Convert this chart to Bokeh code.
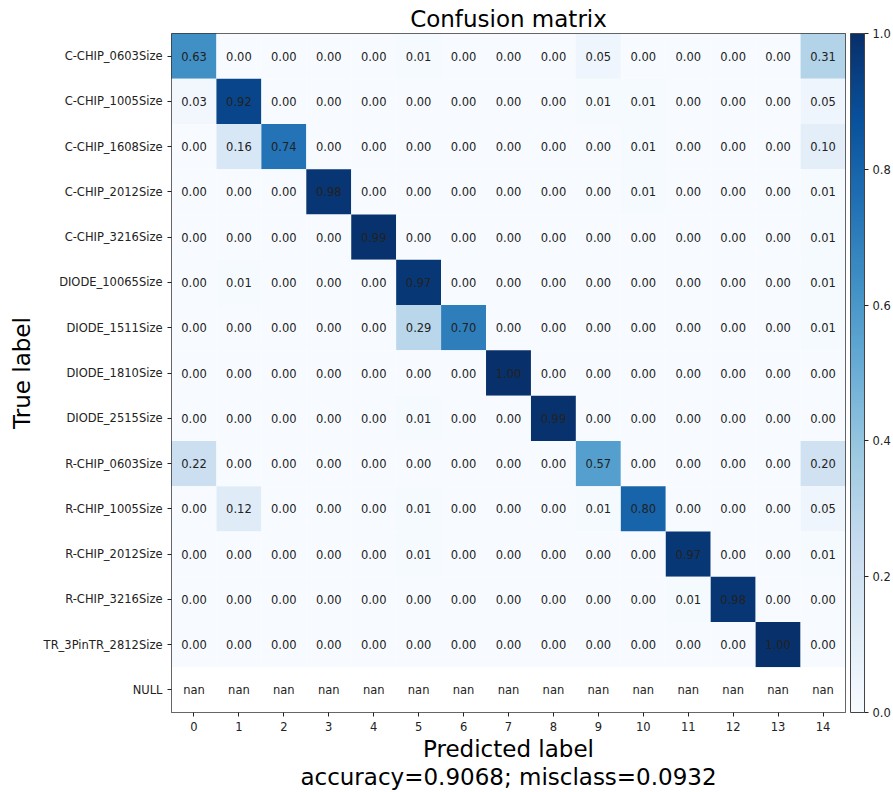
import numpy as np
from bokeh.plotting import figure
from bokeh.models import (ColumnDataSource, LinearColorMapper, ColorBar, FixedTicker,
                          Title, PrintfTickFormatter, Range1d)
from bokeh.transform import transform
from bokeh.core.properties import value
from bokeh.embed import file_html
from bokeh.resources import INLINE

true_labels = ["C-CHIP_0603Size", "C-CHIP_1005Size", "C-CHIP_1608Size", "C-CHIP_2012Size",
               "C-CHIP_3216Size", "DIODE_10065Size", "DIODE_1511Size", "DIODE_1810Size",
               "DIODE_2515Size", "R-CHIP_0603Size", "R-CHIP_1005Size", "R-CHIP_2012Size",
               "R-CHIP_3216Size", "TR_3PinTR_2812Size", "NULL"]
pred_labels = [str(i) for i in range(15)]

nan = float("nan")
row_c0603 = [0.63, 0.00, 0.00, 0.00, 0.00, 0.01, 0.00, 0.00, 0.00, 0.05, 0.00, 0.00, 0.00, 0.00, 0.31]
row_c1005 = [0.03, 0.92, 0.00, 0.00, 0.00, 0.00, 0.00, 0.00, 0.00, 0.01, 0.01, 0.00, 0.00, 0.00, 0.05]
row_c1608 = [0.00, 0.16, 0.74, 0.00, 0.00, 0.00, 0.00, 0.00, 0.00, 0.00, 0.01, 0.00, 0.00, 0.00, 0.10]
row_c2012 = [0.00, 0.00, 0.00, 0.98, 0.00, 0.00, 0.00, 0.00, 0.00, 0.00, 0.01, 0.00, 0.00, 0.00, 0.01]
row_c3216 = [0.00, 0.00, 0.00, 0.00, 0.99, 0.00, 0.00, 0.00, 0.00, 0.00, 0.00, 0.00, 0.00, 0.00, 0.01]
row_d10065 = [0.00, 0.01, 0.00, 0.00, 0.00, 0.97, 0.00, 0.00, 0.00, 0.00, 0.00, 0.00, 0.00, 0.00, 0.01]
row_d1511 = [0.00, 0.00, 0.00, 0.00, 0.00, 0.29, 0.70, 0.00, 0.00, 0.00, 0.00, 0.00, 0.00, 0.00, 0.01]
row_d1810 = [0.00, 0.00, 0.00, 0.00, 0.00, 0.00, 0.00, 1.00, 0.00, 0.00, 0.00, 0.00, 0.00, 0.00, 0.00]
row_d2515 = [0.00, 0.00, 0.00, 0.00, 0.00, 0.01, 0.00, 0.00, 0.99, 0.00, 0.00, 0.00, 0.00, 0.00, 0.00]
row_r0603 = [0.22, 0.00, 0.00, 0.00, 0.00, 0.00, 0.00, 0.00, 0.00, 0.57, 0.00, 0.00, 0.00, 0.00, 0.20]
row_r1005 = [0.00, 0.12, 0.00, 0.00, 0.00, 0.01, 0.00, 0.00, 0.00, 0.01, 0.80, 0.00, 0.00, 0.00, 0.05]
row_r2012 = [0.00, 0.00, 0.00, 0.00, 0.00, 0.01, 0.00, 0.00, 0.00, 0.00, 0.00, 0.97, 0.00, 0.00, 0.01]
row_r3216 = [0.00, 0.00, 0.00, 0.00, 0.00, 0.00, 0.00, 0.00, 0.00, 0.00, 0.00, 0.01, 0.98, 0.00, 0.00]
row_tr2812 = [0.00, 0.00, 0.00, 0.00, 0.00, 0.00, 0.00, 0.00, 0.00, 0.00, 0.00, 0.00, 0.00, 1.00, 0.00]
row_null = [nan] * 15

matrix = [row_c0603, row_c1005, row_c1608, row_c2012, row_c3216, row_d10065, row_d1511,
          row_d1810, row_d2515, row_r0603, row_r1005, row_r2012, row_r3216, row_tr2812, row_null]

accuracy = 0.9068
misclass = 0.0932
colorbar_ticks = [0.0, 0.2, 0.4, 0.6, 0.8, 1.0]

# matplotlib "Blues" colormap (linear through the 9 brewer anchors)
anchors = ["#f7fbff", "#deebf7", "#c6dbef", "#9ecae1", "#6baed6",
           "#4292c6", "#2171b5", "#08519c", "#08306b"]
anc = np.array([[int(h[i:i + 2], 16) for i in (1, 3, 5)] for h in anchors], dtype=float)
pos = np.linspace(0, 1, len(anchors))
t = np.linspace(0, 1, 256)
cols = np.stack([np.interp(t, pos, anc[:, k]) for k in range(3)], axis=1)
blues = ["#%02x%02x%02x" % tuple(int(round(c)) for c in rgb) for rgb in cols]

xs, ys, vs, txt = [], [], [], []
for i, row in enumerate(matrix):
    for j, v in enumerate(row):
        xs.append(j)
        ys.append(i)
        vs.append(v)
        txt.append("nan" if np.isnan(v) else "%.2f" % v)
src = ColumnDataSource(dict(x=xs, y=ys, v=np.array(vs, dtype=float), t=txt))

mapper = LinearColorMapper(palette=blues, low=0.0, high=1.0, nan_color="white")

FONT = "DejaVu Sans"
p = figure(width=893, height=792, x_range=Range1d(-0.5, 14.5), y_range=Range1d(14.5, -0.5),
           output_backend="svg", toolbar_location=None,
           min_border_left=171, min_border_top=33, min_border_right=48, min_border_bottom=80)
p.title.text = "Confusion matrix"
p.title.align = "center"
p.title.text_font = FONT
p.title.text_font_size = "23px"
p.title.text_font_style = "normal"
p.title.text_color = "black"
p.title.standoff = 4

p.rect(x="x", y="y", width=1, height=1, source=src,
       fill_color=transform("v", mapper), line_color=None)
p.text(x="x", y="y", text="t", source=src, text_align="center", text_baseline="middle",
       text_font=value(FONT), text_font_size="11.5px", text_color="#222222")

p.grid.visible = False
p.outline_line_color = "#333333"
p.outline_line_width = 1

for ax in (p.xaxis[0], p.yaxis[0]):
    ax.axis_line_color = None
    ax.major_tick_in = 0
    ax.major_tick_out = 4
    ax.major_tick_line_color = "#222222"
    ax.minor_tick_line_color = None
    ax.major_label_text_font = FONT
    ax.major_label_text_font_size = "11.5px"
    ax.major_label_text_color = "#222222"
    ax.major_label_standoff = 5
    ax.axis_label_text_font = FONT
    ax.axis_label_text_font_size = "23px"
    ax.axis_label_text_font_style = "normal"
    ax.axis_label_text_color = "black"

p.xaxis.ticker = FixedTicker(ticks=list(range(15)))
p.xaxis.major_label_overrides = {i: s for i, s in enumerate(pred_labels)}
p.xaxis.axis_label = "Predicted label"
p.xaxis.axis_label_standoff = 2

p.yaxis.ticker = FixedTicker(ticks=list(range(15)))
p.yaxis.major_label_overrides = {i: s for i, s in enumerate(true_labels)}
p.yaxis.axis_label = "True label"
p.yaxis.axis_label_standoff = 6

sub = Title(text="accuracy={:0.4f}; misclass={:0.4f}".format(accuracy, misclass),
            align="center", text_font=FONT, text_font_size="23px",
            text_font_style="normal", text_color="black", standoff=-5)
p.add_layout(sub, "below")

# small blank spacer between the frame and the colour bar
gap = Title(text=" ", text_font_size="1px", standoff=2)
p.add_layout(gap, "right")

cb = ColorBar(color_mapper=mapper, ticker=FixedTicker(ticks=colorbar_ticks),
              formatter=PrintfTickFormatter(format="%.1f"), width=14, height=679,
              padding=0, margin=0, major_tick_in=0, major_tick_out=4,
              major_tick_line_color="#222222", bar_line_color="#444444",
              major_label_text_font=FONT, major_label_text_font_size="11.5px",
              major_label_text_color="#222222", label_standoff=4,
              border_line_color=None, background_fill_alpha=0)
p.add_layout(cb, "right")

open("out.html", "w").write(file_html(p, INLINE))
